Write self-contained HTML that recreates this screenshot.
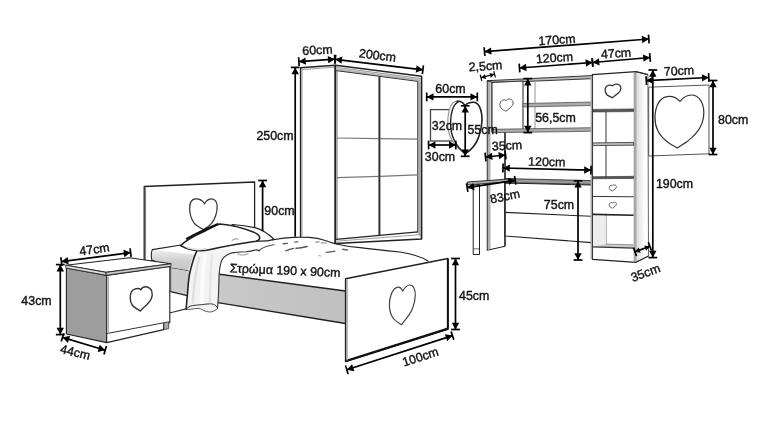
<!DOCTYPE html>
<html><head><meta charset="utf-8"><title>Diagram</title>
<style>
html,body{margin:0;padding:0;background:#fff;}
body{width:760px;height:445px;overflow:hidden;}
svg{display:block;font-family:"Liberation Sans",sans-serif;}
</style></head><body>
<svg width="760" height="445" viewBox="0 0 760 445">
<mask id="mk"><rect width="760" height="445" fill="#fff"/></mask>
<rect width="760" height="445" fill="#fff"/>
<g mask="url(#mk)">
<defs><linearGradient id="gm" x1="0" y1="0" x2="0" y2="1"><stop offset="0" stop-color="#eeeeee"/><stop offset="0.5" stop-color="#d0d0d0"/><stop offset="1" stop-color="#c6c6c6"/></linearGradient><linearGradient id="gr" x1="0" y1="0" x2="1" y2="0"><stop offset="0" stop-color="#cccccc"/><stop offset="1" stop-color="#c0c0c0"/></linearGradient></defs>
<polygon points="300.6,67.7 335.3,65.2 335.3,243.5 300.6,243" fill="#fff" stroke="#222" stroke-width="1.5" stroke-linejoin="round" />
<line x1="302.3" y1="68.6" x2="302.3" y2="243" stroke="#aaa" stroke-width="0.8"/>
<line x1="302" y1="69.6" x2="335" y2="67.2" stroke="#888" stroke-width="0.8"/>
<polygon points="335.3,65.2 421.6,76.3 421.6,239 335.3,243.5" fill="#fff" stroke="#222" stroke-width="1.6" stroke-linejoin="round" />
<polygon points="336,68.2 421,79.3 421,81.2 336,70.2" fill="#b5b5b5" stroke="none" stroke-width="1.1" stroke-linejoin="round" />
<line x1="336" y1="67.4" x2="421" y2="78.5" stroke="#666" stroke-width="0.7"/>
<line x1="336" y1="70.6" x2="418" y2="81.4" stroke="#333" stroke-width="1"/>
<polygon points="417.6,81 421,81.5 421,238.5 417.6,232.2" fill="#aaa" stroke="none" stroke-width="1.1" stroke-linejoin="round" />
<line x1="337" y1="71" x2="337" y2="239.3" stroke="#444" stroke-width="0.8"/>
<line x1="379.4" y1="76.5" x2="379.4" y2="235.5" stroke="#333" stroke-width="2"/>
<line x1="417.6" y1="81" x2="417.6" y2="232.2" stroke="#444" stroke-width="0.9"/>
<line x1="336" y1="239.4" x2="418" y2="231.8" stroke="#222" stroke-width="1.2"/>
<line x1="336" y1="241.2" x2="421" y2="234.6" stroke="#777" stroke-width="0.7"/>
<line x1="337" y1="138" x2="379" y2="138.6" stroke="#777" stroke-width="1.2"/>
<line x1="380" y1="138.6" x2="417.6" y2="139.2" stroke="#777" stroke-width="1.2"/>
<line x1="337" y1="177.7" x2="379" y2="176.3" stroke="#777" stroke-width="1.2"/>
<line x1="380" y1="176.3" x2="417.6" y2="174.8" stroke="#777" stroke-width="1.2"/>
<polygon points="144.2,186.5 254.6,182 254.6,245 144.2,262" fill="#fff" stroke="#222" stroke-width="1.3" stroke-linejoin="round" />
<line x1="145.6" y1="187.5" x2="145.6" y2="261" stroke="#777" stroke-width="1"/>
<path d="M0.04,-0.34 C0.1,-0.44 0.2,-0.5 0.3,-0.5 C0.43,-0.5 0.5,-0.38 0.5,-0.25 C0.5,-0.05 0.42,0.15 0.3,0.3 C0.2,0.4 0.1,0.45 0,0.5 C-0.1,0.45 -0.25,0.38 -0.35,0.27 C-0.46,0.13 -0.5,-0.05 -0.5,-0.2 C-0.5,-0.38 -0.42,-0.5 -0.27,-0.5 C-0.13,-0.5 -0.02,-0.44 0.04,-0.34 Z" transform="translate(203.4 214.2) rotate(0) scale(27.5 30.8)" fill="#fff" stroke="#333" stroke-width="1.2" vector-effect="non-scaling-stroke"/>
<path d="M152.3,249.5 L182,244.5 L200,252 L196,256 L186,270 L152,260 Z" fill="#fff" stroke="none" stroke-width="1.1" stroke-linejoin="round" stroke-linecap="round" />
<path d="M152.3,250 L194,254.5 L188,271 L170.7,268 L151.8,260 Z" fill="url(#gm)" stroke="none" stroke-width="1.1" stroke-linejoin="round" stroke-linecap="round" />
<path d="M181,245 L152.3,249.6 Q150.5,254 151.8,260 L170.7,268 L188.3,271" fill="none" stroke="#222" stroke-width="1.1" stroke-linejoin="round" stroke-linecap="round" />
<polygon points="170.7,268 188.3,271 345.5,291 345.5,323.5 217.8,302.7 187.2,295.6 170.7,291.7" fill="url(#gr)" stroke="none" stroke-width="1.1" stroke-linejoin="round" />
<path d="M170.7,291.7 L187.2,295.6 L217.8,302.7 L345.5,323.5" fill="none" stroke="#222" stroke-width="1.3" stroke-linejoin="round" stroke-linecap="round" />
<line x1="170.7" y1="268" x2="170.7" y2="291.6" stroke="#444" stroke-width="0.8"/>
<line x1="169.5" y1="313" x2="187" y2="308.6" stroke="#333" stroke-width="1.1"/>
<path d="M197,253 C215,247 235,243 258,241 C264,240.5 270,240 274,239.7 C281,238.3 288,237.6 293.7,237.4 C299,237.2 305,237.2 309.5,237.4 C315,237.8 320,238.8 325.3,240.5 L334.8,243.7 C345,246 352,247 360,247.6 C375,249.5 390,251 400,252 C412,254 422,257 428,261 L346,279 L345.5,291 L219.3,274.2 C220,266 222,258 230,251 Z" fill="#fff" stroke="none" stroke-width="1.1" stroke-linejoin="round" stroke-linecap="round" />
<path d="M272,240 C281,238.3 288,237.6 293.7,237.4 C299,237.2 305,237.2 309.5,237.4 C315,237.8 320,238.8 325.3,240.5 L334.8,243.7 C345,246 352,247 360,247.6 C375,249.5 390,251 400,252 C412,254 422,257 428,261" fill="none" stroke="#222" stroke-width="1.1" stroke-linejoin="round" stroke-linecap="round" />
<line x1="219.3" y1="274.2" x2="345.5" y2="291" stroke="#222" stroke-width="1.4"/>
<line x1="283.4" y1="243.7" x2="287.4" y2="243.4" stroke="#555" stroke-width="1.4" stroke-linecap="round"/>
<line x1="294.5" y1="242.1" x2="297.7" y2="241.8" stroke="#777" stroke-width="1.4" stroke-linecap="round"/>
<line x1="315.8" y1="242.1" x2="319" y2="241.8" stroke="#999" stroke-width="1.4" stroke-linecap="round"/>
<line x1="321.4" y1="242.9" x2="326.1" y2="242.9" stroke="#999" stroke-width="1.4" stroke-linecap="round"/>
<line x1="326.1" y1="252.4" x2="334.8" y2="251.3" stroke="#666" stroke-width="1.4" stroke-linecap="round"/>
<line x1="342.7" y1="249.2" x2="347.4" y2="250" stroke="#666" stroke-width="1.4" stroke-linecap="round"/>
<line x1="319" y1="255.6" x2="320.6" y2="256" stroke="#999" stroke-width="1" stroke-linecap="round"/>
<path d="M285.8,250.8 C289,249.3 291,248.8 293.7,248.4" fill="none" stroke="#555" stroke-width="1.4" stroke-linejoin="round" stroke-linecap="round" />
<path d="M296,248.2 C299,248.3 303,247.6 307.1,246.5" fill="none" stroke="#555" stroke-width="1.4" stroke-linejoin="round" stroke-linecap="round" />
<path d="M259,250.8 C261,248.5 264,247.3 267,246.3 C269.5,245.5 272,245 274,244.5" fill="none" stroke="#555" stroke-width="1.1" stroke-linejoin="round" stroke-linecap="round" />
<path d="M238,254 C241,255.3 245,255 248,253.8" fill="none" stroke="#bbb" stroke-width="1.6" stroke-linejoin="round" stroke-linecap="round" />
<path d="M196.9,250.9 C195,254.5 193.8,258 192.7,261.9 C191.2,266.5 190,271 189.3,275.4 C188.4,281 188,286.5 187.6,292.2 C187.2,297 186.8,301.5 186.4,305.7 L186.1,309.2 C188,309.6 190,309.4 191.5,309.2 C194,308.9 196.5,308.2 198.7,308.3 C201,308.6 203,310.3 205,311 C207,311.7 209.5,312.2 211.3,311.9 C214,311.3 216,310 217.6,308.3 C217.9,303 218.3,298 218.5,294 C218.7,288 218.9,281 219.1,274.2 C219.4,270 220,265.5 221.2,261.6 C222.5,258 225,255.5 230,253.5 L231,250 C220,248.5 207,249 196.9,250.9 Z" fill="#f3f3f3" stroke="none" stroke-width="1.1" stroke-linejoin="round" stroke-linecap="round" />
<path d="M196.9,250.9 C195,254.5 193.8,258 192.7,261.9 C191.2,266.5 190,271 189.3,275.4 C188.4,281 188,286.5 187.6,292.2 C187.2,297 186.8,301.5 186.4,305.7 L186.1,309.2" fill="none" stroke="#222" stroke-width="1.6" stroke-linejoin="round" stroke-linecap="round" />
<path d="M217.6,308.3 C217.9,303 218.3,298 218.5,294 C218.7,288 218.9,281 219.1,274.2 C219.4,270 220,265.5 221.2,261.6 C222.5,258 225,255.5 230,253.5 C231.5,253 233,252.7 234,252.6 C238,252.3 242,252 245.7,251.8 C249,251.5 252,251 255,250.1 C256.5,249.6 258,250 259,250.8" fill="none" stroke="#333" stroke-width="1.1" stroke-linejoin="round" stroke-linecap="round" />
<path d="M186.1,309.2 C188,307 190,306 192.4,305.6 C195.5,305.1 198.5,305 201.4,304.7 C204.5,304.4 207.5,303.7 210.4,303.8 C212.5,303.9 214.5,304.6 215.8,305.6 C216.7,306.4 217.3,307.3 217.6,308.3" fill="none" stroke="#333" stroke-width="1" stroke-linejoin="round" stroke-linecap="round" />
<path d="M186.1,309.2 C188,309.6 190,309.4 191.5,309.2 C194,308.9 196.5,308.2 198.7,308.3 C201,308.6 203,310.3 205,311 C207,311.7 209.5,312.2 211.3,311.9 C214,311.3 216,310 217.6,308.3" fill="none" stroke="#444" stroke-width="0.9" stroke-linejoin="round" stroke-linecap="round" />
<path d="M199,258 C195.5,272 193.5,288 192.8,303" fill="none" stroke="#e0e0e0" stroke-width="2.4" stroke-linejoin="round" stroke-linecap="round" />
<path d="M205,256 C203,272 202,288 201.6,302" fill="none" stroke="#fbfbfb" stroke-width="4" stroke-linejoin="round" stroke-linecap="round" />
<path d="M212,256 C210.5,272 210,290 209.8,302" fill="none" stroke="#e4e4e4" stroke-width="2.4" stroke-linejoin="round" stroke-linecap="round" />
<path d="M232,224.5 C242,225 250,226.5 255.8,227.9 C263,230 269,234.5 274,239.3 C268,241 262,241.5 256,241 Z" fill="#fff" stroke="#222" stroke-width="1.2" stroke-linejoin="round" stroke-linecap="round" />
<path d="M180.6,245.7 C186,240 196,235 205,231 C211,228 216,224.5 220,224 C232,225 243,228 252.6,231.8 C257,233.5 260,236 259.7,238.2 C259.4,240 258,240.8 255.8,241.3 C240,243.5 224,246.5 208,250 C199,251.8 188,250.5 180.6,245.7 Z" fill="#fff" stroke="#222" stroke-width="1.5" stroke-linejoin="round" stroke-linecap="round" />
<path d="M187,238.6 C196,233.6 207,228.6 217.5,224.2" fill="none" stroke="#111" stroke-width="2.2" stroke-linejoin="round" stroke-linecap="round" />
<path d="M232,240.5 C234,239 236,238.5 238,239" fill="none" stroke="#666" stroke-width="0.8" stroke-linejoin="round" stroke-linecap="round" />
<path d="M187,247.5 C193,249.8 200,250 206,248.8" fill="none" stroke="#ddd" stroke-width="1.6" stroke-linejoin="round" stroke-linecap="round" />
<polygon points="345.6,278.7 448,258.6 448,329 345.6,361.5" fill="#fff" stroke="#222" stroke-width="1.5" stroke-linejoin="round" />
<line x1="345.8" y1="361" x2="448" y2="328.6" stroke="#111" stroke-width="2.2"/>
<line x1="447.8" y1="259" x2="447.8" y2="329" stroke="#111" stroke-width="1.9"/>
<line x1="347.2" y1="279.5" x2="347.2" y2="360.5" stroke="#999" stroke-width="1"/>
<path d="M402.7,291.2 C404.5,288 407,285 409.8,285 C413.5,285 415.5,290 415.3,295.2 C415.2,300 414,305 412.2,309.3 C409.5,315.5 405,320 401.5,324.7 C398,322.5 394.5,320.5 392.5,317.2 C390.5,314 389.4,309 389.4,304.6 C389.4,297 392.5,288.5 397.2,287.3 C400,286.8 401.8,289 402.7,291.2 Z" fill="#fff" stroke="#444" stroke-width="1.2" stroke-linejoin="round" stroke-linecap="round" />
<polygon points="66.4,268 106.7,275.5 106.7,342.6 66.4,334" fill="#9d9d9d" stroke="#222" stroke-width="1.1" stroke-linejoin="round" />
<polygon points="106.7,275.5 169.8,266.5 169.8,322.6 163.7,323 163.7,329.6 106.7,342.6" fill="#fff" stroke="#222" stroke-width="1.1" stroke-linejoin="round" />
<polygon points="163.9,322.9 168.7,321.7 168.7,328.6 163.9,329.6" fill="#aaa" stroke="#333" stroke-width="0.8" stroke-linejoin="round" />
<line x1="106.7" y1="333.6" x2="163.7" y2="322.8" stroke="#333" stroke-width="1"/>
<line x1="108.4" y1="276.5" x2="108.4" y2="334" stroke="#999" stroke-width="0.9"/>
<polygon points="65.8,265.2 129.6,257.7 171,263.8 106,272.4" fill="#fff" stroke="#222" stroke-width="1.1" stroke-linejoin="round" />
<polygon points="65.8,265.2 106,272.4 106.2,275.2 65.8,268" fill="#ddd" stroke="#222" stroke-width="0.8" stroke-linejoin="round" />
<polygon points="106,272.4 171,263.8 171,266.3 106.2,275.2" fill="#ccc" stroke="#222" stroke-width="0.8" stroke-linejoin="round" />
<path d="M-0.015,-0.39 C0.06,-0.5 0.18,-0.52 0.28,-0.5 C0.42,-0.46 0.5,-0.33 0.5,-0.19 C0.5,-0.05 0.42,0.07 0.325,0.17 C0.2,0.3 0.05,0.4 -0.045,0.5 C-0.15,0.43 -0.32,0.36 -0.40,0.26 C-0.47,0.17 -0.5,0.06 -0.5,-0.05 C-0.5,-0.22 -0.42,-0.37 -0.30,-0.41 C-0.18,-0.45 -0.07,-0.43 -0.015,-0.39 Z" transform="translate(141.2 299) rotate(0) scale(22 24)" fill="#fff" stroke="#333" stroke-width="1.4" vector-effect="non-scaling-stroke"/>
<rect x="430.5" y="109.6" width="24" height="31.4" fill="#fff" stroke="#444" stroke-width="1.3"/>
<path d="M464.8,105.8 C463,102.5 460.5,101 457,101.2 C450.5,102 447.8,112 447.8,124 C447.8,137 455,147 464.8,153.5 C468,152 470,150.5 471.5,148.7 C475.5,144.5 478,140 479.2,135.3 C481,130 482,125 482,120 C482,110 479,102.3 473.4,102.3 C469.5,102.3 466.5,103.5 464.8,105.8 Z" fill="#fff" stroke="#999" stroke-width="1.2" stroke-linejoin="round" stroke-linecap="round" />
<path d="M457.2,101.2 C462,101 464,103.5 464.8,105.8 C466.5,103.5 469.5,102.3 473.4,102.3 C479,102.3 482,110 482,120 C482,125 481,130 479.2,135.3 C478,140 475.5,144.5 471.5,148.7 C470,150.5 468,152 464.8,153.5" fill="none" stroke="#222" stroke-width="1.5" stroke-linejoin="round" stroke-linecap="round" />
<path d="M459,101.4 C453.5,104 450.6,113 450.6,124 C450.6,136 456,146 464.8,153.5" fill="none" stroke="#222" stroke-width="1.4" stroke-linejoin="round" stroke-linecap="round" />
<polygon points="487.3,81 492,80.6 492,132 505,131.5 505,246.3 487.3,250.2" fill="#fff" stroke="#222" stroke-width="1.1" stroke-linejoin="round" />
<polygon points="487.8,81.5 490.5,81.3 490.5,249 487.8,249.7" fill="#b0b0b0" stroke="none" stroke-width="1.1" stroke-linejoin="round" />
<polygon points="505,183 591.5,185 591.5,242.6 505,236" fill="#fff" stroke="#222" stroke-width="1.1" stroke-linejoin="round" />
<line x1="505" y1="212.4" x2="591.5" y2="216.3" stroke="#222" stroke-width="1.1"/>
<polygon points="492,81 592.5,74.5 592.5,133 492,132" fill="#fff" stroke="none" stroke-width="1.1" stroke-linejoin="round" />
<polygon points="487.1,80.7 592,75.6 592,78.7 523,81.6 492,82.3" fill="#bbb" stroke="#222" stroke-width="0.9" stroke-linejoin="round" />
<polygon points="492,82.5 523,81 523,130 492,130" fill="#fff" stroke="#333" stroke-width="1.1" stroke-linejoin="round" />
<path d="M-0.015,-0.39 C0.06,-0.5 0.18,-0.52 0.28,-0.5 C0.42,-0.46 0.5,-0.33 0.5,-0.19 C0.5,-0.05 0.42,0.07 0.325,0.17 C0.2,0.3 0.05,0.4 -0.045,0.5 C-0.15,0.43 -0.32,0.36 -0.40,0.26 C-0.47,0.17 -0.5,0.06 -0.5,-0.05 C-0.5,-0.22 -0.42,-0.37 -0.30,-0.41 C-0.18,-0.45 -0.07,-0.43 -0.015,-0.39 Z" transform="translate(506.5 105.2) rotate(0) scale(13.2 12.2)" fill="#fff" stroke="#555" stroke-width="1" vector-effect="non-scaling-stroke"/>
<polygon points="523,103.5 592,102 592,105.5 523,107" fill="#aaa" stroke="#444" stroke-width="0.7" stroke-linejoin="round" />
<line x1="535" y1="81.5" x2="535" y2="103.5" stroke="#888" stroke-width="0.9"/>
<line x1="535" y1="107" x2="535" y2="129" stroke="#888" stroke-width="0.9"/>
<polygon points="492,129.3 592,127.7 592,131.3 492,132.7" fill="#aaa" stroke="#444" stroke-width="0.7" stroke-linejoin="round" />
<line x1="505" y1="132.5" x2="505" y2="246" stroke="#222" stroke-width="1.2"/>
<polygon points="505,178.6 591.5,180.6 591.5,184.4 505,182.6" fill="#999" stroke="#222" stroke-width="0.8" stroke-linejoin="round" />
<polygon points="467.4,182 514.8,178.6 514.8,181.2 467.6,185" fill="#aaa" stroke="#222" stroke-width="0.9" stroke-linejoin="round" />
<polygon points="473.2,185 479.5,184.5 479.5,254.5 473.2,254.5" fill="#fff" stroke="#222" stroke-width="1" stroke-linejoin="round" />
<line x1="473.2" y1="248.8" x2="479.5" y2="248.8" stroke="#444" stroke-width="0.8"/>
<polygon points="592.4,74.7 636,71.6 636,262.3 592.4,259.3" fill="#fff" stroke="#222" stroke-width="1.3" stroke-linejoin="round" />
<polygon points="636,71.6 647.9,74.7 648.5,256 636,262.3" fill="#fff" stroke="#666" stroke-width="1" stroke-linejoin="round" />
<linearGradient id="gs" x1="0" y1="0" x2="1" y2="0"><stop offset="0" stop-color="#dcdcdc"/><stop offset="1" stop-color="#ffffff"/></linearGradient>
<polygon points="636.5,73 645,75 645,258 636.5,261.5" fill="url(#gs)" stroke="none" stroke-width="1.1" stroke-linejoin="round" />
<line x1="636" y1="71.6" x2="647.9" y2="74.7" stroke="#222" stroke-width="1.2"/>
<line x1="636" y1="262.3" x2="648.5" y2="256" stroke="#222" stroke-width="1.2"/>
<polygon points="590.6,76 592.2,76 592.2,259 590.6,259" fill="#aaa" stroke="none" stroke-width="1.1" stroke-linejoin="round" />
<polygon points="633.6,73 636.2,72.6 636.2,261.8 633.6,261.4" fill="#a8a8a8" stroke="none" stroke-width="1.1" stroke-linejoin="round" />
<path d="M-0.015,-0.39 C0.06,-0.5 0.18,-0.52 0.28,-0.5 C0.42,-0.46 0.5,-0.33 0.5,-0.19 C0.5,-0.05 0.42,0.07 0.325,0.17 C0.2,0.3 0.05,0.4 -0.045,0.5 C-0.15,0.43 -0.32,0.36 -0.40,0.26 C-0.47,0.17 -0.5,0.06 -0.5,-0.05 C-0.5,-0.22 -0.42,-0.37 -0.30,-0.41 C-0.18,-0.45 -0.07,-0.43 -0.015,-0.39 Z" transform="translate(613 91) rotate(0) scale(15.7 13.6)" fill="#fff" stroke="#333" stroke-width="1.3" vector-effect="non-scaling-stroke"/>
<line x1="606" y1="112" x2="606" y2="177" stroke="#333" stroke-width="1"/>
<line x1="606.2" y1="215" x2="606.2" y2="244.5" stroke="#777" stroke-width="0.8"/>
<polygon points="592.6,109.4 633.6,108.9 633.6,111.6 592.6,112" fill="#555" stroke="#333" stroke-width="0.6" stroke-linejoin="round" />
<polygon points="592.6,142.9 633.6,142.4 633.6,145.2 592.6,145.6" fill="#bbb" stroke="#333" stroke-width="0.8" stroke-linejoin="round" />
<polygon points="592.6,176.7 633.6,176.3 633.6,178.4 592.6,178.8" fill="#555" stroke="#333" stroke-width="0.6" stroke-linejoin="round" />
<line x1="592.6" y1="196.4" x2="633.6" y2="196.8" stroke="#333" stroke-width="1"/>
<line x1="592.6" y1="214.4" x2="633.6" y2="215.2" stroke="#222" stroke-width="1.6"/>
<path d="M-0.015,-0.39 C0.06,-0.5 0.18,-0.52 0.28,-0.5 C0.42,-0.46 0.5,-0.33 0.5,-0.19 C0.5,-0.05 0.42,0.07 0.325,0.17 C0.2,0.3 0.05,0.4 -0.045,0.5 C-0.15,0.43 -0.32,0.36 -0.40,0.26 C-0.47,0.17 -0.5,0.06 -0.5,-0.05 C-0.5,-0.22 -0.42,-0.37 -0.30,-0.41 C-0.18,-0.45 -0.07,-0.43 -0.015,-0.39 Z" transform="translate(612.8 187.9) rotate(0) scale(7.2 6)" fill="#fff" stroke="#555" stroke-width="0.9" vector-effect="non-scaling-stroke"/>
<path d="M-0.015,-0.39 C0.06,-0.5 0.18,-0.52 0.28,-0.5 C0.42,-0.46 0.5,-0.33 0.5,-0.19 C0.5,-0.05 0.42,0.07 0.325,0.17 C0.2,0.3 0.05,0.4 -0.045,0.5 C-0.15,0.43 -0.32,0.36 -0.40,0.26 C-0.47,0.17 -0.5,0.06 -0.5,-0.05 C-0.5,-0.22 -0.42,-0.37 -0.30,-0.41 C-0.18,-0.45 -0.07,-0.43 -0.015,-0.39 Z" transform="translate(612.8 205.2) rotate(0) scale(7.2 6)" fill="#fff" stroke="#555" stroke-width="0.9" vector-effect="non-scaling-stroke"/>
<polygon points="593.2,216 606,216.3 606,244.3 593.2,246.6" fill="#ececec" stroke="none" stroke-width="1.1" stroke-linejoin="round" />
<polygon points="593.2,246.8 606.2,244 633.6,244.8 633.6,248" fill="#c8c8c8" stroke="none" stroke-width="1.1" stroke-linejoin="round" />
<line x1="606.2" y1="244" x2="633.6" y2="244.8" stroke="#777" stroke-width="0.7"/>
<line x1="592.6" y1="246.9" x2="633.6" y2="248.2" stroke="#333" stroke-width="1.2"/>
<polygon points="648.7,87.2 709,85 709,153.8 648.7,156" fill="#fff" stroke="#555" stroke-width="1" stroke-linejoin="round" />
<path d="M680,101.3 C683,97.5 687,95 691.3,95 C699,95 703.8,103 703.8,112.5 C703.8,118 702.5,123 700,127.5 C697,133.5 692,137.5 687.5,141.3 C684,144 680,146 677.5,148 C675.5,146.5 672.5,145.5 670,143.8 C664.5,140 660,136 657.5,130 C655.5,126 655,121.5 655,117.5 C655,106 660,96.5 668.8,96.3 C673.5,96.2 677.5,98.5 680,101.3 Z" fill="#fff" stroke="#333" stroke-width="1.2" stroke-linejoin="round" stroke-linecap="round" />
<line x1="61.40" y1="261.60" x2="130.60" y2="252.60" stroke="#000" stroke-width="1.7"/><polygon points="61.40,261.60 68.62,264.39 67.67,257.05" fill="#000"/><polygon points="130.60,252.60 124.33,257.15 123.38,249.81" fill="#000"/><line x1="61.97" y1="265.96" x2="60.83" y2="257.24" stroke="#000" stroke-width="1.7"/><line x1="131.17" y1="256.96" x2="130.03" y2="248.24" stroke="#000" stroke-width="1.7"/>
<text x="94.5" y="249.5" font-size="12.4" text-anchor="middle" dominant-baseline="central" fill="#151515" stroke="#151515" stroke-width="0.4" transform="rotate(-8 94.5 249.5)">47cm</text>
<line x1="60.30" y1="264.60" x2="60.30" y2="334.60" stroke="#000" stroke-width="1.7"/><polygon points="60.30,264.60 56.60,271.40 64.00,271.40" fill="#000"/><polygon points="60.30,334.60 56.60,327.80 64.00,327.80" fill="#000"/><line x1="55.90" y1="264.60" x2="64.70" y2="264.60" stroke="#000" stroke-width="1.7"/><line x1="55.90" y1="334.60" x2="64.70" y2="334.60" stroke="#000" stroke-width="1.7"/>
<text x="36.5" y="300.5" font-size="12.4" text-anchor="middle" dominant-baseline="central" fill="#151515" stroke="#151515" stroke-width="0.4">43cm</text>
<line x1="62.50" y1="337.40" x2="105.20" y2="350.30" stroke="#000" stroke-width="1.7"/><polygon points="62.50,337.40 67.94,342.91 70.08,335.82" fill="#000"/><polygon points="105.20,350.30 97.62,351.88 99.76,344.79" fill="#000"/><line x1="61.23" y1="341.61" x2="63.77" y2="333.19" stroke="#000" stroke-width="1.7"/><line x1="103.93" y1="354.51" x2="106.47" y2="346.09" stroke="#000" stroke-width="1.7"/>
<text x="75.2" y="352.5" font-size="12.4" text-anchor="middle" dominant-baseline="central" fill="#151515" stroke="#151515" stroke-width="0.4" transform="rotate(14 75.2 352.5)">44cm</text>
<line x1="262.60" y1="231.00" x2="262.60" y2="180.50" stroke="#000" stroke-width="1.7"/><polygon points="262.60,180.50 266.30,187.30 258.90,187.30" fill="#000"/><line x1="267.00" y1="180.50" x2="258.20" y2="180.50" stroke="#000" stroke-width="1.7"/>
<text x="279.5" y="210.5" font-size="12.4" text-anchor="middle" dominant-baseline="central" fill="#151515" stroke="#151515" stroke-width="0.4">90cm</text>
<text x="285.2" y="270.6" font-size="12.4" text-anchor="middle" dominant-baseline="central" fill="#151515" stroke="#151515" stroke-width="0.4" transform="rotate(2.4 285.2 270.6)">Στρώμα 190 x 90cm</text>
<line x1="455.50" y1="258.50" x2="455.50" y2="329.50" stroke="#000" stroke-width="1.7"/><polygon points="455.50,258.50 451.80,265.30 459.20,265.30" fill="#000"/><polygon points="455.50,329.50 451.80,322.70 459.20,322.70" fill="#000"/><line x1="451.10" y1="258.50" x2="459.90" y2="258.50" stroke="#000" stroke-width="1.7"/><line x1="451.10" y1="329.50" x2="459.90" y2="329.50" stroke="#000" stroke-width="1.7"/>
<text x="474.2" y="295.5" font-size="12.4" text-anchor="middle" dominant-baseline="central" fill="#151515" stroke="#151515" stroke-width="0.4">45cm</text>
<line x1="346.80" y1="369.80" x2="452.50" y2="335.60" stroke="#000" stroke-width="1.7"/><polygon points="346.80,369.80 354.41,371.23 352.13,364.19" fill="#000"/><polygon points="452.50,335.60 447.17,341.21 444.89,334.17" fill="#000"/><line x1="348.15" y1="373.99" x2="345.45" y2="365.61" stroke="#000" stroke-width="1.7"/><line x1="453.85" y1="339.79" x2="451.15" y2="331.41" stroke="#000" stroke-width="1.7"/>
<text x="420.5" y="357" font-size="12.4" text-anchor="middle" dominant-baseline="central" fill="#151515" stroke="#151515" stroke-width="0.4" transform="rotate(-18 420.5 357)">100cm</text>
<line x1="298.90" y1="61.60" x2="334.80" y2="59.20" stroke="#000" stroke-width="1.7"/><polygon points="298.90,61.60 305.93,64.84 305.44,57.45" fill="#000"/><polygon points="334.80,59.20 328.26,63.35 327.77,55.96" fill="#000"/><line x1="299.19" y1="65.99" x2="298.61" y2="57.21" stroke="#000" stroke-width="1.7"/><line x1="335.09" y1="63.59" x2="334.51" y2="54.81" stroke="#000" stroke-width="1.7"/>
<text x="317.5" y="50.2" font-size="12.4" text-anchor="middle" dominant-baseline="central" fill="#151515" stroke="#151515" stroke-width="0.4" transform="rotate(-3 317.5 50.2)">60cm</text>
<line x1="335.20" y1="59.30" x2="422.90" y2="69.80" stroke="#000" stroke-width="1.7"/><polygon points="335.20,59.30 341.51,63.78 342.39,56.43" fill="#000"/><polygon points="422.90,69.80 415.71,72.67 416.59,65.32" fill="#000"/><line x1="334.68" y1="63.67" x2="335.72" y2="54.93" stroke="#000" stroke-width="1.7"/><line x1="422.38" y1="74.17" x2="423.42" y2="65.43" stroke="#000" stroke-width="1.7"/>
<text x="377.5" y="55.5" font-size="12.4" text-anchor="middle" dominant-baseline="central" fill="#151515" stroke="#151515" stroke-width="0.4" transform="rotate(7 377.5 55.5)">200cm</text>
<line x1="295.20" y1="67.40" x2="295.20" y2="236.60" stroke="#000" stroke-width="1.7"/><polygon points="295.20,67.40 291.50,74.20 298.90,74.20" fill="#000"/><line x1="290.80" y1="67.40" x2="299.60" y2="67.40" stroke="#000" stroke-width="1.7"/>
<text x="275" y="135.5" font-size="12.4" text-anchor="middle" dominant-baseline="central" fill="#151515" stroke="#151515" stroke-width="0.4">250cm</text>
<line x1="426.70" y1="96.90" x2="477.30" y2="96.90" stroke="#000" stroke-width="1.7"/><polygon points="426.70,96.90 433.50,100.60 433.50,93.20" fill="#000"/><polygon points="477.30,96.90 470.50,100.60 470.50,93.20" fill="#000"/><line x1="426.70" y1="101.30" x2="426.70" y2="92.50" stroke="#000" stroke-width="1.7"/><line x1="477.30" y1="101.30" x2="477.30" y2="92.50" stroke="#000" stroke-width="1.7"/>
<text x="450.5" y="89.2" font-size="12.4" text-anchor="middle" dominant-baseline="central" fill="#151515" stroke="#151515" stroke-width="0.4">60cm</text>
<text x="447" y="125.8" font-size="12.4" text-anchor="middle" dominant-baseline="central" fill="#151515" stroke="#151515" stroke-width="0.4">32cm</text>
<line x1="465.20" y1="105.80" x2="465.20" y2="156.30" stroke="#000" stroke-width="1.7"/><polygon points="465.20,105.80 461.50,112.60 468.90,112.60" fill="#000"/><polygon points="465.20,156.30 461.50,149.50 468.90,149.50" fill="#000"/><line x1="460.80" y1="105.80" x2="469.60" y2="105.80" stroke="#000" stroke-width="1.7"/><line x1="460.80" y1="156.30" x2="469.60" y2="156.30" stroke="#000" stroke-width="1.7"/>
<text x="482.6" y="130" font-size="12.4" text-anchor="middle" dominant-baseline="central" fill="#151515" stroke="#151515" stroke-width="0.4">55cm</text>
<line x1="428.60" y1="145.00" x2="455.80" y2="145.00" stroke="#000" stroke-width="1.7"/><polygon points="428.60,145.00 435.40,148.70 435.40,141.30" fill="#000"/><polygon points="455.80,145.00 449.00,148.70 449.00,141.30" fill="#000"/><line x1="428.60" y1="149.40" x2="428.60" y2="140.60" stroke="#000" stroke-width="1.7"/><line x1="455.80" y1="149.40" x2="455.80" y2="140.60" stroke="#000" stroke-width="1.7"/>
<text x="440" y="156.5" font-size="12.4" text-anchor="middle" dominant-baseline="central" fill="#151515" stroke="#151515" stroke-width="0.4">30cm</text>
<line x1="484.50" y1="51.60" x2="648.80" y2="39.00" stroke="#000" stroke-width="1.7"/><polygon points="484.50,51.60 491.56,54.77 491.00,47.39" fill="#000"/><polygon points="648.80,39.00 642.30,43.21 641.74,35.83" fill="#000"/><line x1="484.84" y1="55.99" x2="484.16" y2="47.21" stroke="#000" stroke-width="1.7"/><line x1="649.14" y1="43.39" x2="648.46" y2="34.61" stroke="#000" stroke-width="1.7"/>
<text x="557" y="40" font-size="12.4" text-anchor="middle" dominant-baseline="central" fill="#151515" stroke="#151515" stroke-width="0.4" transform="rotate(-4 557 40)">170cm</text>
<line x1="519.50" y1="68.00" x2="592.50" y2="62.50" stroke="#000" stroke-width="1.7"/><polygon points="519.50,68.00 526.56,71.18 526.00,63.80" fill="#000"/><polygon points="592.50,62.50 586.00,66.70 585.44,59.32" fill="#000"/><line x1="519.83" y1="72.39" x2="519.17" y2="63.61" stroke="#000" stroke-width="1.7"/><line x1="592.83" y1="66.89" x2="592.17" y2="58.11" stroke="#000" stroke-width="1.7"/>
<text x="554.5" y="58" font-size="12.4" text-anchor="middle" dominant-baseline="central" fill="#151515" stroke="#151515" stroke-width="0.4" transform="rotate(-4 554.5 58)">120cm</text>
<line x1="592.50" y1="62.50" x2="650.00" y2="57.50" stroke="#000" stroke-width="1.7"/><polygon points="592.50,62.50 599.59,65.60 598.95,58.22" fill="#000"/><polygon points="650.00,57.50 643.55,61.78 642.91,54.40" fill="#000"/><line x1="592.88" y1="66.88" x2="592.12" y2="58.12" stroke="#000" stroke-width="1.7"/><line x1="650.38" y1="61.88" x2="649.62" y2="53.12" stroke="#000" stroke-width="1.7"/>
<text x="616" y="53.5" font-size="12.4" text-anchor="middle" dominant-baseline="central" fill="#151515" stroke="#151515" stroke-width="0.4" transform="rotate(-4 616 53.5)">47cm</text>
<line x1="481.00" y1="77.70" x2="494.60" y2="74.20" stroke="#000" stroke-width="1.2"/><polygon points="481.00,77.70 486.08,78.97 484.83,74.13" fill="#000"/><polygon points="494.60,74.20 490.77,77.77 489.52,72.93" fill="#000"/><line x1="481.80" y1="80.80" x2="480.20" y2="74.60" stroke="#000" stroke-width="1.2"/><line x1="495.40" y1="77.30" x2="493.80" y2="71.10" stroke="#000" stroke-width="1.2"/>
<text x="485.5" y="66.2" font-size="12.4" text-anchor="middle" dominant-baseline="central" fill="#151515" stroke="#151515" stroke-width="0.4" transform="rotate(-4 485.5 66.2)">2,5cm</text>
<line x1="527.80" y1="78.60" x2="527.80" y2="132.60" stroke="#000" stroke-width="1.7"/><polygon points="527.80,78.60 524.10,85.40 531.50,85.40" fill="#000"/><polygon points="527.80,132.60 524.10,125.80 531.50,125.80" fill="#000"/><line x1="523.40" y1="78.60" x2="532.20" y2="78.60" stroke="#000" stroke-width="1.7"/><line x1="523.40" y1="132.60" x2="532.20" y2="132.60" stroke="#000" stroke-width="1.7"/>
<text x="555.5" y="117.5" font-size="12.4" text-anchor="middle" dominant-baseline="central" fill="#151515" stroke="#151515" stroke-width="0.4">56,5cm</text>
<line x1="485.50" y1="157.00" x2="505.50" y2="155.00" stroke="#000" stroke-width="1.7"/><polygon points="485.50,157.00 492.63,160.01 491.90,152.64" fill="#000"/><polygon points="505.50,155.00 499.10,159.36 498.37,151.99" fill="#000"/><line x1="485.94" y1="161.38" x2="485.06" y2="152.62" stroke="#000" stroke-width="1.7"/><line x1="505.94" y1="159.38" x2="505.06" y2="150.62" stroke="#000" stroke-width="1.7"/>
<text x="507" y="145.8" font-size="12.4" text-anchor="middle" dominant-baseline="central" fill="#151515" stroke="#151515" stroke-width="0.4" transform="rotate(-3 507 145.8)">35cm</text>
<line x1="503.00" y1="168.00" x2="591.00" y2="170.20" stroke="#000" stroke-width="1.7"/><polygon points="503.00,168.00 509.71,171.87 509.89,164.47" fill="#000"/><polygon points="591.00,170.20 584.11,173.73 584.29,166.33" fill="#000"/><line x1="502.89" y1="172.40" x2="503.11" y2="163.60" stroke="#000" stroke-width="1.7"/><line x1="590.89" y1="174.60" x2="591.11" y2="165.80" stroke="#000" stroke-width="1.7"/>
<text x="546.8" y="162" font-size="12.4" text-anchor="middle" dominant-baseline="central" fill="#151515" stroke="#151515" stroke-width="0.4" transform="rotate(1 546.8 162)">120cm</text>
<line x1="467.20" y1="187.60" x2="515.20" y2="180.30" stroke="#000" stroke-width="1.7"/><polygon points="467.20,187.60 474.48,190.24 473.37,182.92" fill="#000"/><polygon points="515.20,180.30 509.03,184.98 507.92,177.66" fill="#000"/><line x1="467.86" y1="191.95" x2="466.54" y2="183.25" stroke="#000" stroke-width="1.7"/><line x1="515.86" y1="184.65" x2="514.54" y2="175.95" stroke="#000" stroke-width="1.7"/>
<text x="505" y="196.5" font-size="12.4" text-anchor="middle" dominant-baseline="central" fill="#151515" stroke="#151515" stroke-width="0.4" transform="rotate(-12 505 196.5)">83cm</text>
<line x1="578.00" y1="180.80" x2="578.00" y2="260.00" stroke="#000" stroke-width="1.7"/><polygon points="578.00,180.80 574.30,187.60 581.70,187.60" fill="#000"/><polygon points="578.00,260.00 574.30,253.20 581.70,253.20" fill="#000"/><line x1="573.60" y1="180.80" x2="582.40" y2="180.80" stroke="#000" stroke-width="1.7"/><line x1="573.60" y1="260.00" x2="582.40" y2="260.00" stroke="#000" stroke-width="1.7"/>
<text x="559" y="205.3" font-size="12.4" text-anchor="middle" dominant-baseline="central" fill="#151515" stroke="#151515" stroke-width="0.4">75cm</text>
<line x1="635.00" y1="251.80" x2="649.90" y2="246.40" stroke="#000" stroke-width="1.7"/><polygon points="635.00,251.80 640.65,252.73 638.75,247.46" fill="#000"/><polygon points="649.90,246.40 646.15,250.74 644.25,245.47" fill="#000"/><line x1="636.50" y1="255.94" x2="633.50" y2="247.66" stroke="#000" stroke-width="1.7"/><line x1="651.40" y1="250.54" x2="648.40" y2="242.26" stroke="#000" stroke-width="1.7"/>
<text x="645.5" y="273" font-size="12.4" text-anchor="middle" dominant-baseline="central" fill="#151515" stroke="#151515" stroke-width="0.4" transform="rotate(-20 645.5 273)">35cm</text>
<line x1="652.80" y1="70.00" x2="652.80" y2="257.60" stroke="#000" stroke-width="1.7"/><polygon points="652.80,70.00 649.10,76.80 656.50,76.80" fill="#000"/><polygon points="652.80,257.60 649.10,250.80 656.50,250.80" fill="#000"/><line x1="648.40" y1="70.00" x2="657.20" y2="70.00" stroke="#000" stroke-width="1.7"/><line x1="648.40" y1="257.60" x2="657.20" y2="257.60" stroke="#000" stroke-width="1.7"/>
<text x="674.5" y="183.8" font-size="12.4" text-anchor="middle" dominant-baseline="central" fill="#151515" stroke="#151515" stroke-width="0.4">190cm</text>
<line x1="646.30" y1="80.60" x2="708.80" y2="77.50" stroke="#000" stroke-width="1.7"/><polygon points="646.30,80.60 653.27,83.96 652.91,76.57" fill="#000"/><polygon points="708.80,77.50 702.19,81.53 701.83,74.14" fill="#000"/><line x1="646.52" y1="84.99" x2="646.08" y2="76.21" stroke="#000" stroke-width="1.7"/><line x1="709.02" y1="81.89" x2="708.58" y2="73.11" stroke="#000" stroke-width="1.7"/>
<text x="679" y="71" font-size="12.4" text-anchor="middle" dominant-baseline="central" fill="#151515" stroke="#151515" stroke-width="0.4" transform="rotate(-3 679 71)">70cm</text>
<line x1="713.00" y1="80.50" x2="713.00" y2="154.50" stroke="#000" stroke-width="1.7"/><polygon points="713.00,80.50 709.30,87.30 716.70,87.30" fill="#000"/><polygon points="713.00,154.50 709.30,147.70 716.70,147.70" fill="#000"/><line x1="708.60" y1="80.50" x2="717.40" y2="80.50" stroke="#000" stroke-width="1.7"/><line x1="708.60" y1="154.50" x2="717.40" y2="154.50" stroke="#000" stroke-width="1.7"/>
<text x="733.2" y="119.5" font-size="12.4" text-anchor="middle" dominant-baseline="central" fill="#151515" stroke="#151515" stroke-width="0.4">80cm</text>
</g>
</svg>
</body></html>
